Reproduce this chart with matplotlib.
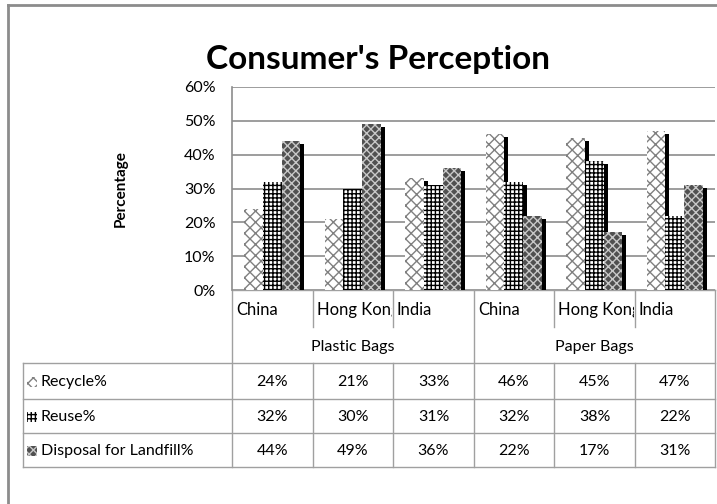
import numpy as np
import matplotlib
matplotlib.use('Agg')
import matplotlib.pyplot as plt
from matplotlib.patches import Rectangle

plt.rcParams['font.family'] = ['Lato', 'DejaVu Sans']
plt.rcParams['hatch.linewidth'] = 1.0

# data
groups = ['Plastic Bags', 'Paper Bags']
countries = ['China', 'Hong Kong', 'India', 'China', 'Hong Kong', 'India']
series = ['Recycle%', 'Reuse%', 'Disposal for Landfill%']
recycle = [24, 21, 33, 46, 45, 47]
reuse = [32, 30, 31, 32, 38, 22]
landfill = [44, 49, 36, 22, 17, 31]
yticks = [0, 10, 20, 30, 40, 50, 60]

values = [recycle, reuse, landfill]
styles = [
    dict(facecolor='white', edgecolor='#808080', hatch='xxx'),
    dict(facecolor='white', edgecolor='black', hatch='++++'),
    dict(facecolor='#505050', edgecolor='#c8c8c8', hatch='xxxx'),
]

W, H = 717, 504
fig = plt.figure(figsize=(W / 100, H / 100), dpi=100)

# overlay for frame / table in pixel coords
ov = fig.add_axes([0, 0, 1, 1])
ov.set_xlim(0, W)
ov.set_ylim(H, 0)
ov.axis('off')

# plot area (pixels)
L, R, T, B = 232, 715, 87, 290
ax = fig.add_axes([L / W, 1 - B / H, (R - L) / W, (B - T) / H])
ax.set_xlim(-0.5, 5.5)
ax.set_ylim(0, 60)

x = np.arange(len(countries))
bw = 0.23
offs = [-0.23, 0.0, 0.23]
px = 1.0 / ((R - L) / 6)  # x units per pixel
py = 60.0 / (B - T)       # y units per pixel
for k in range(3):
    v = np.array(values[k])
    # shadow
    ax.bar(x + offs[k] + 4 * px, v - 3 * py, bw, color='black', lw=0, zorder=2 + k * 2)
    ax.bar(x + offs[k], v, bw, lw=0, zorder=3 + k * 2, **styles[k])

ax.set_yticks(yticks)
ax.set_yticklabels([f'{t}%' for t in yticks], fontsize=11.5)
ax.tick_params(axis='y', length=0, pad=12)
ax.set_xticks([])
ax.grid(axis='y', color='#8c8c8c', lw=1.2)
ax.set_axisbelow(True)
for s in ['top', 'right', 'bottom']:
    ax.spines[s].set_visible(False)
ax.spines['left'].set_color('#8c8c8c')
ax.spines['left'].set_linewidth(1.2)

ax.set_ylabel('Percentage', fontsize=11, fontweight='bold', labelpad=40)

fig.text(378 / W, 1 - 60 / H, "Consumer's Perception", ha='center', va='center',
         fontsize=24, fontweight='bold')

# outer frame
fc = '#8c8c8c'
ov.plot([8, 716], [5, 5], color=fc, lw=2)
ov.plot([8, 8], [5, H], color=fc, lw=2)

# table
lc = '#a0a0a0'
cols = [232, 313, 393, 474, 554, 635, 715]
rows = [363, 399, 433, 467]
ov.plot([232, 715], [290, 290], color=lc, lw=1)
for yy in rows:
    ov.plot([23, 715], [yy, yy], color=lc, lw=1)
ov.plot([23, 23], [363, 467], color=lc, lw=1)
for i, xx in enumerate(cols):
    if xx in (232, 474, 715):
        ov.plot([xx, xx], [290, 467], color=lc, lw=1)
    else:
        ov.plot([xx, xx], [290, 327], color=lc, lw=1)
        ov.plot([xx, xx], [363, 467], color=lc, lw=1)

for i, c in enumerate(countries):
    t = ov.text(cols[i] + 4, 310, c, ha='left', va='center', fontsize=12)
    clip = Rectangle((cols[i], 290), cols[i + 1] - cols[i] - 1, 40,
                     transform=ov.transData)
    t.set_clip_path(clip)
    t.set_clip_on(True)

for g, gname in enumerate(groups):
    ov.text((cols[3 * g] + cols[3 * g + 3]) / 2, 347, gname, ha='center',
            va='center', fontsize=11.5)

for k in range(3):
    yc = (rows[k] + rows[k + 1]) / 2 + 1
    ov.add_patch(Rectangle((27, yc - 5), 10, 10, lw=0, **styles[k]))
    ov.text(41, yc, series[k], ha='left', va='center', fontsize=11.5)
    for i in range(6):
        ov.text((cols[i] + cols[i + 1]) / 2, yc, f'{values[k][i]}%',
                ha='center', va='center', fontsize=11.5)

fig.savefig('out.png', dpi=100)
